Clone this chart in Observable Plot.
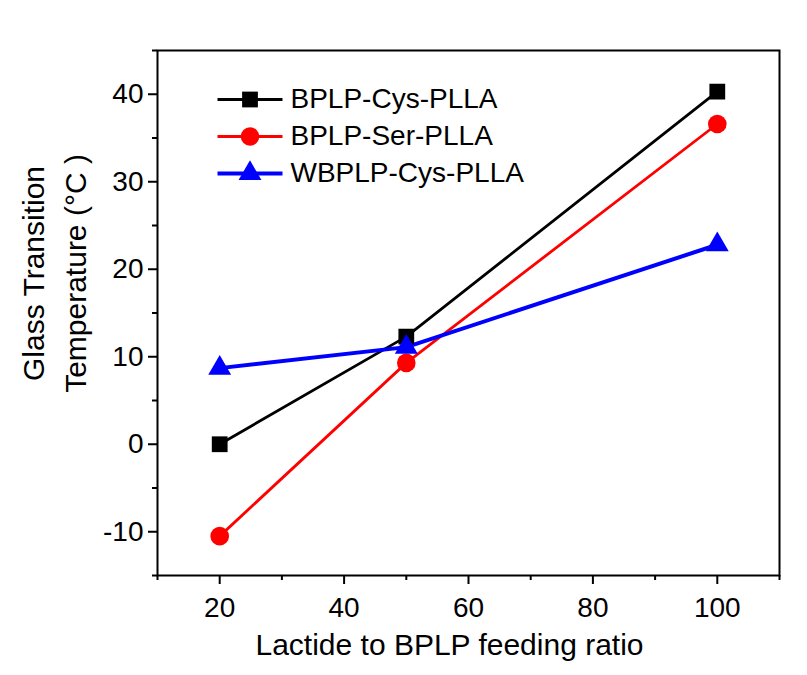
<!DOCTYPE html>
<html>
<head>
<meta charset="utf-8">
<script src="https://cdn.jsdelivr.net/npm/d3@7"></script>
<script src="https://cdn.jsdelivr.net/npm/@observablehq/plot@0.6"></script>
<style>
  html, body { margin: 0; padding: 0; background: #fff; }
</style>
</head>
<body>
<div id="chart"></div>
<script>
const feedingRatio = [20, 50, 100];
const cysTg = [0, 12.3, 40.3];
const serTg = [-10.5, 9.3, 36.6];
const wcysTg = [8.7, 11.1, 22.8];
const seriesNames = ["BPLP-Cys-PLLA", "BPLP-Ser-PLLA", "WBPLP-Cys-PLLA"];
const seriesColors = ["#000000", "#ff0000", "#0000ff"];
const seriesSymbols = ["square", "circle", "triangle"];
const xMajorTicks = [20, 40, 60, 80, 100];
const xMinorTicks = [10, 30, 50, 70, 90, 110];
const yMajorTicks = [-10, 0, 10, 20, 30, 40];
const yMinorTicks = [-15, -5, 5, 15, 25, 35, 45];
const xLabel = "Lactide to BPLP feeding ratio";
const yLabel = "Glass Transition\nTemperature (°C )";

const seriesValues = [cysTg, serTg, wcysTg];
const lineWidths = [2.8, 2.8, 4];
const markerR = [8.9, 9.3, 8.5];

const legendLine = {
  draw(context) { context.moveTo(-32.5, 0); context.lineTo(32.5, 0); }
};

const marks = [];
marks.push(Plot.frame({stroke: "black", strokeWidth: 2}));
marks.push(Plot.axisX({ticks: xMajorTicks, tickSize: 9, tickPadding: 13, fontSize: 28, label: null, strokeWidth: 2, tickFormat: d => String(d)}));
marks.push(Plot.axisX({ticks: xMinorTicks, tickSize: 5, tickFormat: () => "", label: null, strokeWidth: 2}));
marks.push(Plot.axisY({ticks: yMajorTicks, tickSize: 9, tickPadding: 5, fontSize: 28, label: null, strokeWidth: 2, tickFormat: d => String(d)}));
marks.push(Plot.axisY({ticks: yMinorTicks, tickSize: 5, tickFormat: () => "", label: null, strokeWidth: 2}));

seriesNames.forEach((name, i) => {
  const rows = feedingRatio.map((x, j) => ({x, y: seriesValues[i][j], series: name}));
  marks.push(Plot.line(rows, {x: "x", y: "y", stroke: seriesColors[i], strokeWidth: lineWidths[i]}));
});
seriesNames.forEach((name, i) => {
  const rows = feedingRatio.map((x, j) => ({x, y: seriesValues[i][j], series: name}));
  marks.push(Plot.dot(rows, {x: "x", y: "y", symbol: seriesSymbols[i], fill: seriesColors[i], stroke: "none", r: markerR[i]}));
});

// Legend inside the frame
const legendDy = [49, 86, 123];
seriesNames.forEach((name, i) => {
  marks.push(Plot.dot([name], {frameAnchor: "top-left", dx: 92.5, dy: legendDy[i], symbol: legendLine, stroke: seriesColors[i], fill: "none", strokeWidth: i === 2 ? 4 : 3, r: 5}));
  marks.push(Plot.dot([name], {frameAnchor: "top-left", dx: 92.5, dy: legendDy[i], symbol: seriesSymbols[i], fill: seriesColors[i], stroke: "none", r: markerR[i]}));
  marks.push(Plot.text([name], {frameAnchor: "top-left", dx: 133, dy: legendDy[i], text: d => d, textAnchor: "start", lineAnchor: "middle", fontSize: 28, fill: "black"}));
});

// Axis labels
marks.push(Plot.text([xLabel], {frameAnchor: "bottom", dx: -19, dy: 70, text: d => d, fontSize: 30, textAnchor: "middle", lineAnchor: "middle", fill: "black"}));
marks.push(Plot.text([yLabel], {frameAnchor: "left", dx: -106, dy: -39.5, text: d => d, fontSize: 30, rotate: -90, textAnchor: "middle", lineAnchor: "middle", lineHeight: 1.4, fill: "black"}));

const chart = Plot.plot({
  width: 807,
  height: 675,
  marginLeft: 157,
  marginRight: 28,
  marginTop: 50,
  marginBottom: 100,
  x: {domain: [10, 110]},
  y: {domain: [-15, 45]},
  style: {fontFamily: "'Liberation Sans', Arial, sans-serif", background: "white", color: "black", overflow: "visible"},
  marks
});
document.getElementById("chart").appendChild(chart);
</script>
</body>
</html>
